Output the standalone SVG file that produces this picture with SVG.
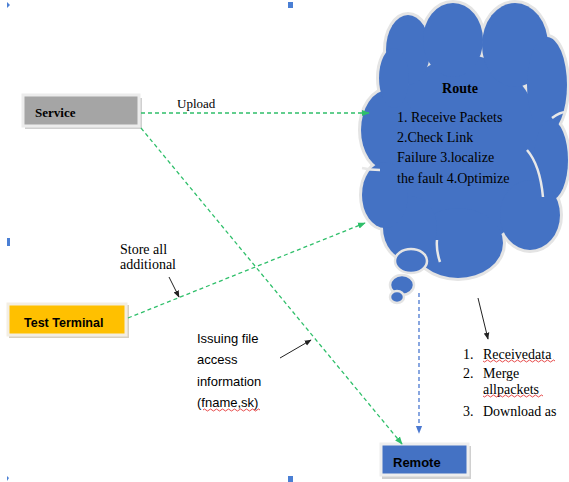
<svg xmlns="http://www.w3.org/2000/svg" width="569" height="482" viewBox="0 0 569 482">
<style>
.serif{font-family:"Liberation Serif","Times New Roman",serif;fill:#000}
.sans{font-family:"Liberation Sans",Arial,sans-serif;fill:#000}
.green{stroke:#2fbf6a;stroke-width:1.3;stroke-dasharray:4 3;fill:none}
.blue{stroke:#4a78d0;stroke-width:1.3;stroke-dasharray:4 3;fill:none}
.blk{stroke:#222;stroke-width:1;fill:none}
.cloudS{fill:#e4e4e4;stroke:#e4e4e4;stroke-width:6}
.cloudF{fill:#4472c4}
.inner{stroke:#e8e8e8;stroke-width:2.5;fill:none}
.handle{fill:#4a7fd4}
.squig{stroke:#e02020;stroke-width:0.8;fill:none}
</style>
<defs>
<marker id="ag" viewBox="0 0 10 10" refX="9" refY="5" markerWidth="6" markerHeight="6" orient="auto"><path d="M0,1 L10,5 L0,9 z" fill="#2fbf6a"/></marker>
<marker id="ab" viewBox="0 0 10 10" refX="9" refY="5" markerWidth="6" markerHeight="6" orient="auto"><path d="M0,1 L10,5 L0,9 z" fill="#4a78d0"/></marker>
<marker id="ak" viewBox="0 0 10 10" refX="9" refY="5" markerWidth="7" markerHeight="7" orient="auto"><path d="M0,1 L10,5 L0,9 z" fill="#222"/></marker>
</defs>
<rect width="569" height="482" fill="#fff"/>
<g id="handles">
<path class="handle" d="M7,2 L10,5 L7,8 z"/>
<rect class="handle" x="288" y="2" width="5" height="6"/>
<rect class="handle" x="7" y="238" width="3" height="8"/>
<rect class="handle" x="288" y="476" width="5" height="6"/>
<path class="handle" d="M7,476 L9,478 L7,481 z"/>
</g>
<g id="route">
<g>
<ellipse class="cloudS" cx="465" cy="150" rx="78" ry="95"/>
<ellipse class="cloudS" cx="408" cy="50" rx="22" ry="35"/>
<ellipse class="cloudS" cx="453" cy="40" rx="30" ry="37"/>
<ellipse class="cloudS" cx="515" cy="45" rx="33" ry="42"/>
<ellipse class="cloudS" cx="547" cy="85" rx="20" ry="48"/>
<ellipse class="cloudS" cx="551" cy="160" rx="17" ry="40"/>
<ellipse class="cloudS" cx="530" cy="215" rx="30" ry="35"/>
<ellipse class="cloudS" cx="458" cy="243" rx="45" ry="35"/>
<ellipse class="cloudS" cx="410" cy="228" rx="27" ry="32"/>
<ellipse class="cloudS" cx="388" cy="130" rx="27" ry="40"/>
<ellipse class="cloudS" cx="385" cy="195" rx="23" ry="33"/>
<ellipse class="cloudS" cx="394" cy="78" rx="15" ry="30"/>
</g>
<g>
<ellipse class="cloudF" cx="465" cy="150" rx="78" ry="95"/>
<ellipse class="cloudF" cx="408" cy="50" rx="22" ry="35"/>
<ellipse class="cloudF" cx="453" cy="40" rx="30" ry="37"/>
<ellipse class="cloudF" cx="515" cy="45" rx="33" ry="42"/>
<ellipse class="cloudF" cx="547" cy="85" rx="20" ry="48"/>
<ellipse class="cloudF" cx="551" cy="160" rx="17" ry="40"/>
<ellipse class="cloudF" cx="530" cy="215" rx="30" ry="35"/>
<ellipse class="cloudF" cx="458" cy="243" rx="45" ry="35"/>
<ellipse class="cloudF" cx="410" cy="228" rx="27" ry="32"/>
<ellipse class="cloudF" cx="388" cy="130" rx="27" ry="40"/>
<ellipse class="cloudF" cx="385" cy="195" rx="23" ry="33"/>
<ellipse class="cloudF" cx="394" cy="78" rx="15" ry="30"/>
</g>
<path class="inner" d="M527,150 Q540,165 543,197"/>
<path class="inner" d="M437,240 Q436,250 440,262"/>
<path class="inner" d="M362,168 Q370,170 380,170"/>
<path class="inner" d="M552,118 Q560,112 566,112"/>
<ellipse cx="411" cy="261" rx="16" ry="12" fill="#4472c4" stroke="#e4e4e4" stroke-width="2.5"/>
<ellipse cx="402" cy="285" rx="12" ry="10" fill="#4472c4" stroke="#e4e4e4" stroke-width="2.5"/>
<ellipse cx="397" cy="297" rx="7" ry="6" fill="#4472c4" stroke="#e4e4e4" stroke-width="2.5"/>
<text class="serif" x="460" y="93" font-size="14" font-weight="bold" text-anchor="middle">Route</text>
<text class="serif" font-size="14"><tspan x="397" y="122">1. Receive Packets</tspan><tspan x="397" y="142">2.Check Link</tspan><tspan x="397" y="162">Failure 3.localize</tspan><tspan x="397" y="183">the fault 4.Optimize</tspan></text>
</g>
<g id="service">
<rect x="25" y="98" width="117" height="31" fill="#d0d0d0"/>
<rect x="23" y="95" width="116" height="31" fill="#a5a5a5" stroke="#ececec" stroke-width="3"/>
<text class="serif" x="35" y="117" font-size="13" font-weight="bold">Service</text>
</g>
<g id="test-terminal">
<rect x="9" y="305" width="120" height="33" fill="#d8d0c0"/>
<rect x="8" y="304" width="118" height="31" fill="#ffc000" stroke="#f3eee3" stroke-width="3"/>
<text class="sans" x="24" y="327" font-size="12.5" font-weight="bold">Test Terminal</text>
</g>
<g id="remote">
<rect x="382" y="446" width="89" height="33" fill="#d0d0d0"/>
<rect x="381" y="444" width="87" height="31" fill="#4472c4" stroke="#eeeeee" stroke-width="3"/>
<text class="sans" x="393" y="467" font-size="13" font-weight="bold">Remote</text>
</g>
<g id="connectors">
<path class="green" d="M141,113 L369,113" marker-end="url(#ag)"/>
<path class="green" d="M141,128 L402,444" marker-end="url(#ag)"/>
<path class="green" d="M128,318 L365,223" marker-end="url(#ag)"/>
<path class="blue" d="M419,293 L419,433" marker-end="url(#ab)"/>
<path class="blk" d="M169,277 L179,297" marker-end="url(#ak)"/>
<path class="blk" d="M280,358 L311,340" marker-end="url(#ak)"/>
<path class="blk" d="M478,298 L488,339" marker-end="url(#ak)"/>
</g>
<g id="labels">
<text class="serif" x="177" y="108" font-size="13">Upload</text>
<text class="serif" font-size="14"><tspan x="120" y="254">Store all</tspan><tspan x="120" y="269">additional</tspan></text>
<text class="sans" font-size="13"><tspan x="197" y="343">Issuing file</tspan><tspan x="197" y="364">access</tspan><tspan x="197" y="386">information</tspan><tspan x="197" y="407">(fname,sk)</tspan></text>
<path class="squig" d="M203,410 q1.5,-2 3,0 t3,0 t3,0 t3,0 t3,0 t3,0 t3,0 t3,0 t3,0 t3,0 t3,0 t3,0 t3,0 t3,0 t3,0 t3,0 t3,0 t3,0 t3,0"/>
<text class="serif" font-size="14"><tspan x="463" y="359">1.</tspan><tspan x="483" y="359">Receivedata</tspan><tspan x="463" y="378">2.</tspan><tspan x="483" y="378">Merge</tspan><tspan x="483" y="394">allpackets</tspan><tspan x="463" y="416">3.</tspan><tspan x="483" y="416">Download as</tspan></text>
<path class="squig" d="M483,361 q1.5,2 3,0 t3,0 t3,0 t3,0 t3,0 t3,0 t3,0 t3,0 t3,0 t3,0 t3,0 t3,0 t3,0 t3,0 t3,0 t3,0 t3,0 t3,0 t3,0 t3,0 t3,0 t3,0 t3,0 t3,0"/>
<path class="squig" d="M483,396 q1.5,2 3,0 t3,0 t3,0 t3,0 t3,0 t3,0 t3,0 t3,0 t3,0 t3,0 t3,0 t3,0 t3,0 t3,0 t3,0 t3,0 t3,0 t3,0 t3,0 t3,0"/>
</g>
</svg>
